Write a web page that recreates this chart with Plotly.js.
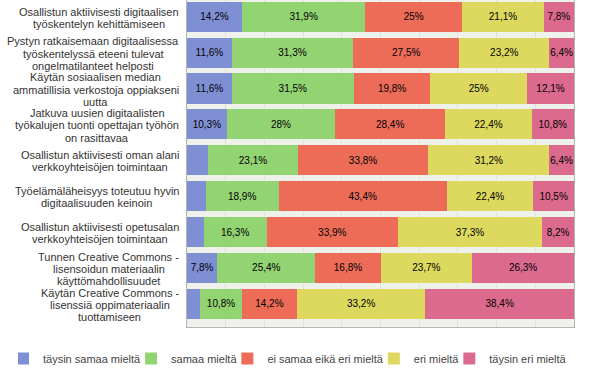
<!DOCTYPE html>
<html><head><meta charset="utf-8">
<script src="https://cdn.plot.ly/plotly-3.0.1.min.js"></script>
<style>html,body{margin:0;padding:0;background:#fff}#chart{width:602px;height:373px}</style>
</head><body><div id="chart"></div>
<script>
const categories = [
  "Osallistun aktiivisesti digitaalisen<br>työskentelyn kehittämiseen",
  "Pystyn ratkaisemaan digitaalisessa<br>työskentelyssä eteeni tulevat<br>ongelmatilanteet helposti",
  "Käytän sosiaalisen median<br>ammatillisia verkostoja oppiakseni<br>uutta",
  "Jatkuva uusien digitaalisten<br>työkalujen tuonti opettajan työhön<br>on rasittavaa",
  "Osallistun aktiivisesti oman alani<br>verkkoyhteisöjen toimintaan",
  "Työelämäläheisyys toteutuu hyvin<br>digitaalisuuden keinoin",
  "Osallistun aktiivisesti opetusalan<br>verkkoyhteisöjen toimintaan",
  "Tunnen Creative Commons -<br>lisensoidun materiaalin<br>käyttömahdollisuudet",
  "Käytän Creative Commons -<br>lisenssiä oppimateriaalin<br>tuottamiseen"
];
const seriesNames = ["täysin samaa mieltä", "samaa mieltä", "ei samaa eikä eri mieltä", "eri mieltä", "täysin eri mieltä"];
const taysinSamaa = [14.2, 11.6, 11.6, 10.3, 5.5, 4.8, 4.3, 7.8, 3.4];
const samaa = [31.9, 31.3, 31.5, 28, 23.1, 18.9, 16.3, 25.4, 10.8];
const eiSamaaEikaEri = [25, 27.5, 19.8, 28.4, 33.8, 43.4, 33.9, 16.8, 14.2];
const eri = [21.1, 23.2, 25, 22.4, 31.2, 22.4, 37.3, 23.7, 33.2];
const taysinEri = [7.8, 6.4, 12.1, 10.8, 6.4, 10.5, 8.2, 26.3, 38.4];
const seriesValues = [taysinSamaa, samaa, eiSamaaEikaEri, eri, taysinEri];
const colors = ['#7f8fd4', '#92d372', '#ec6c58', '#dcd95e', '#dc6a8e'];

const FONT = "Liberation Sans, Arial, sans-serif";
const fmt = v => v < 6 ? '' : String(v).replace('.', ',') + '%';

const traces = seriesValues.map((vals, k) => ({
  type: 'bar',
  orientation: 'h',
  name: seriesNames[k],
  y: categories,
  x: vals,
  text: vals.map(fmt),
  textposition: 'inside',
  insidetextanchor: 'middle',
  textangle: 0,
  constraintext: 'none',
  textfont: {family: FONT, size: 10, color: '#000'},
  marker: {color: colors[k], line: {width: 0}},
  hoverinfo: 'skip'
}));

const LABEL_SIZE = 11;
const ctx = document.createElement('canvas').getContext('2d');
ctx.font = LABEL_SIZE + "px 'Liberation Sans'";
const annotations = [];
categories.forEach(cat => {
  const lines = cat.split('<br>');
  const maxW = Math.max(...lines.map(l => ctx.measureText(l).width));
  lines.forEach((line, i) => {
    annotations.push({
      xref: 'paper', yref: 'y', x: 0, y: cat,
      xshift: -8 - maxW / 2,
      yshift: ((lines.length - 1) / 2 - i) * 12.3 - 1,
      text: line, showarrow: false, xanchor: 'center', yanchor: 'middle',
      font: {family: FONT, size: LABEL_SIZE, color: '#333'}
    });
  });
});

const layout = {
  width: 602, height: 373,
  margin: {l: 187, r: 28, t: 0, b: 37},
  paper_bgcolor: '#ffffff',
  plot_bgcolor: '#eff1eb',
  barmode: 'stack',
  bargap: 0.16,
  showlegend: true,
  legend: {
    orientation: 'h', traceorder: 'normal',
    xref: 'paper', yref: 'paper',
    x: -0.4367, xanchor: 'left', y: -0.052, yanchor: 'top',
    indentation: -15,
    font: {family: FONT, size: 11, color: '#444'},
    bgcolor: 'rgba(0,0,0,0)'
  },
  xaxis: {
    range: [0, 100], dtick: 10, showticklabels: false, ticks: '',
    showgrid: true, gridcolor: '#dfe2da', gridwidth: 1, zeroline: false,
    showline: true, linecolor: '#b5b5b5', linewidth: 1, mirror: false
  },
  yaxis: {
    type: 'category', range: [8.645, -0.466], showticklabels: false, ticks: '',
    showgrid: false, zeroline: false,
    showline: true, linecolor: '#b5b5b5', linewidth: 1, mirror: true
  },
  annotations: annotations,
  font: {family: FONT}
};

Plotly.newPlot('chart', traces, layout, {displayModeBar: false, staticPlot: true});
</script>
</body></html>
